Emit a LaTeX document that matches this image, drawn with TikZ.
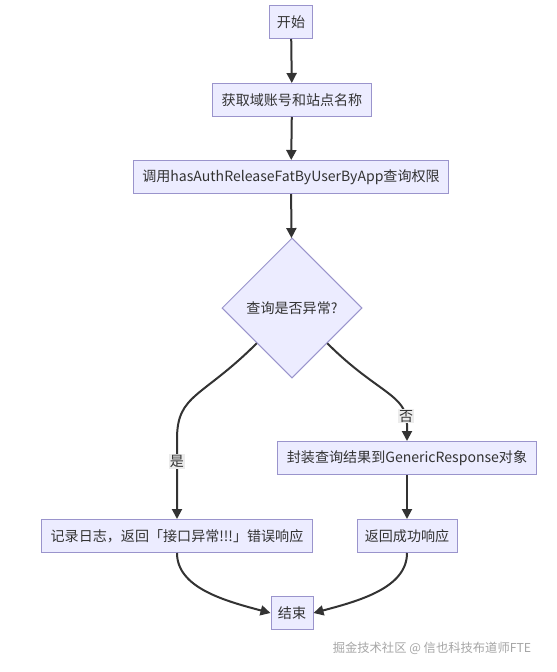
\documentclass[tikz,border=0pt]{standalone}
\usepackage{fontspec}
\newfontfamily\cjk{Noto Sans CJK SC}
\usetikzlibrary{shapes.geometric,arrows.meta}
\definecolor{boxfill}{HTML}{ECECFF}
\definecolor{boxline}{HTML}{9A94CC}
\definecolor{flowline}{HTML}{333333}
\tikzset{
  box/.style={draw=boxline, fill=boxfill, line width=0.03cm, text=flowline,
    font=\cjk\fontsize{12}{14}\selectfont, minimum height=0.99cm, inner xsep=0.2cm},
  decide/.style={diamond, aspect=1, draw=boxline, fill=boxfill, line width=0.03cm,
    text=flowline, font=\cjk\fontsize{12}{14}\selectfont, minimum size=4.2cm, inner sep=0pt},
  flow/.style={draw=flowline, line width=0.06cm, -{Triangle[length=0.3cm,width=0.3cm]}},
  tag/.style={fill=gray!15, text=flowline, font=\cjk\fontsize{12}{14}\selectfont, inner sep=1pt}
}
\begin{document}
\begin{tikzpicture}[x=0.03cm, y=-0.03cm]
\useasboundingbox[fill=white] (0,0) rectangle (556,672);
\node[box, minimum width=1.29cm] (start) at (291,22) {开始};
\node[box, minimum width=4.74cm] (get) at (292,100) {获取域账号和站点名称};
\node[box, minimum width=9.42cm] (call) at (291,177) {调用hasAuthReleaseFatByUserByApp查询权限};
\node[decide] (query) at (292,308) {查询是否异常?};
\node[box, minimum width=8.13cm] (fail) at (177,536) {记录日志，返回「接口异常!!!」错误响应};
\node[box, minimum width=7.77cm] (wrap) at (407,458) {封装查询结果到GenericResponse对象};
\node[box, minimum width=3.0cm] (ok) at (407,536) {返回成功响应};
\node[box, minimum width=1.26cm] (end) at (292,613) {结束};
\node[text=gray!70, font=\cjk\fontsize{10.5}{12}\selectfont] (mark) at (432,648) {掘金技术社区 @ 信也科技布道师FTE};

\draw[flow] (start) -- (get);
\draw[flow] (get) -- (call);
\draw[flow] (call) -- (query);
\draw[flow] (query.south west) .. controls +(-55,55) and +(0,-45) .. ([yshift=2.4cm]fail.north)
  -- node[tag, pos=0.28] (yes) {是} (fail.north);
\draw[flow] (query.south east) .. controls +(50,50) and +(0,-30) .. ([yshift=0.5cm]wrap.north)
  node[tag, pos=0.9] (no) {否} -- (wrap.north);
\draw[flow] (wrap) -- (ok);
\draw[flow] (fail.south) .. controls +(0,35) and +(-45,-12) .. (end.west);
\draw[flow] (ok.south) .. controls +(0,35) and +(45,-12) .. (end.east);
\end{tikzpicture}
\end{document}
